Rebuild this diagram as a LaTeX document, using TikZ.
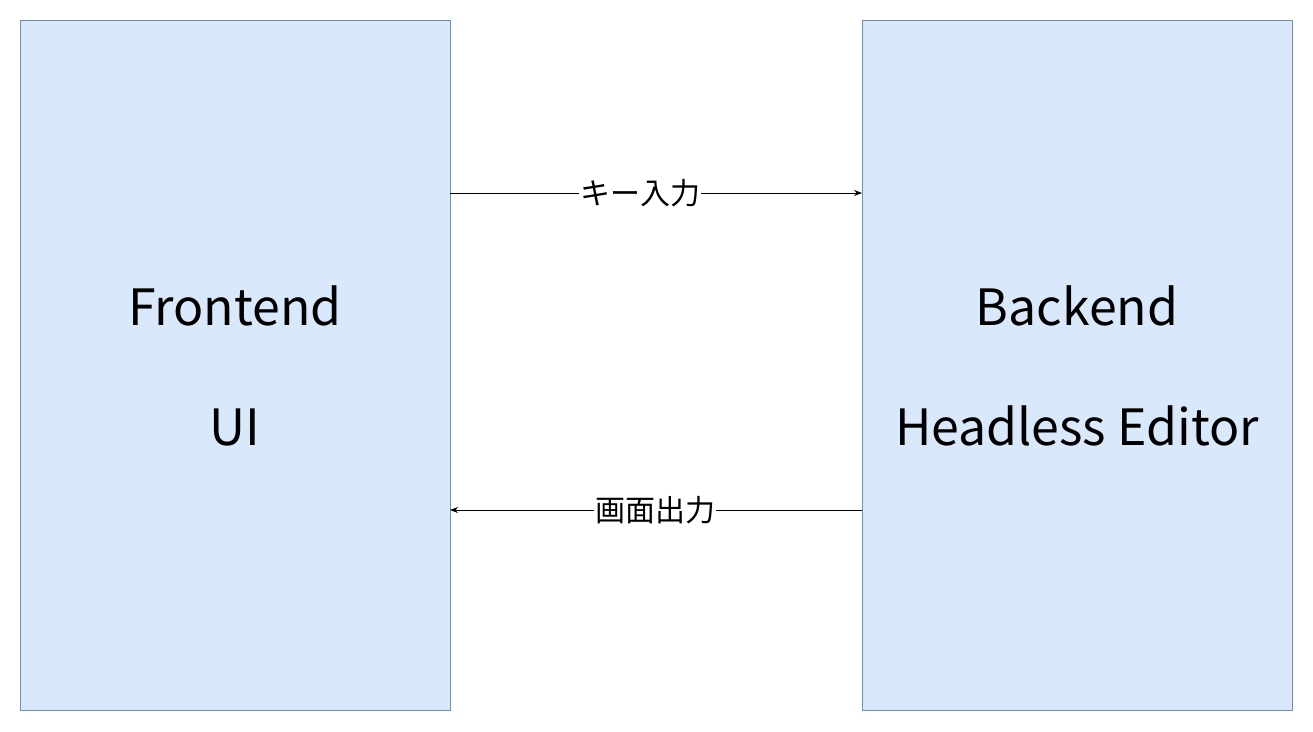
\documentclass[tikz,border=0pt]{standalone}
\usepackage{fontspec}
\setmainfont{Noto Sans CJK JP}
\usetikzlibrary{arrows.meta}
\definecolor{boxfill}{HTML}{DAE8FC}
\definecolor{boxline}{HTML}{6C8EBF}
\begin{document}
\begin{tikzpicture}[x=1pt,y=-1pt,
  panel/.style={draw=boxline,fill=boxfill,line width=0.8pt,minimum width=430pt,minimum height=690pt,inner sep=0pt,anchor=north west},
  big/.style={font=\fontsize{50}{60}\selectfont,inner sep=0pt,anchor=base},
  lab/.style={font=\fontsize{30}{34}\selectfont,fill=white,inner sep=1pt},
  conn/.style={draw=black,line width=0.8pt,-{Stealth[length=8pt,width=6pt]}}]
\useasboundingbox (0,0) rectangle (1313,731);
\node[panel] (fe) at (20,20) {};
\node[panel] (be) at (862,20) {};
\node[big] (fe1) at (235,325) {Frontend};
\node[big] (fe2) at (235,445) {UI};
\node[big] (be1) at (1077,325) {Backend};
\node[big] (be2) at (1077,445) {Headless Editor};
\coordinate (a1) at (450,193);
\coordinate (a2) at (862,193);
\coordinate (b1) at (862,510);
\coordinate (b2) at (450,510);
\draw[conn] (a1) -- (a2);
\draw[conn] (b1) -- (b2);
\node[lab] (l1) at (640,193) {キー入力};
\node[lab] (l2) at (655,510) {画面出力};
\end{tikzpicture}
\end{document}
